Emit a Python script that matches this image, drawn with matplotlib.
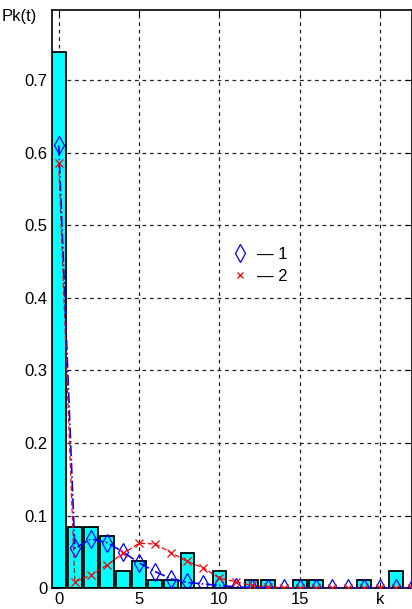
import matplotlib as mpl
mpl.use('Agg')
import matplotlib.pyplot as plt
from matplotlib.lines import Line2D

plt.rcParams['font.family'] = ['Liberation Sans', 'DejaVu Sans']
plt.rcParams['font.size'] = 12

# histogram of P_k(t)
k_bars = list(range(22))
p_bars = [0.738, 0.084, 0.084, 0.072, 0.024, 0.037, 0.012, 0.012, 0.048, 0.0,
          0.024, 0.0, 0.012, 0.012, 0.0, 0.012, 0.012, 0.0, 0.0, 0.012,
          0.0, 0.024]

# model curves at each k
k_pts = list(range(23))
p_model1 = [0.610, 0.055, 0.068, 0.063, 0.050, 0.035, 0.023, 0.013, 0.008, 0.006,
            0.004, 0.002, 0.001, 0.001, 0.0, 0.0, 0.0, 0.0, 0.0, 0.0,
            0.0, 0.0, 0.0]
p_model2 = [0.585, 0.009, 0.018, 0.032, 0.048, 0.062, 0.061, 0.049, 0.037, 0.028,
            0.014, 0.009, 0.004, 0.002, 0.001, 0.0, 0.0, 0.0, 0.0, 0.0,
            0.0, 0.0, 0.0]

xticks = [0, 5, 10, 15, 20]
xtick_labels = ['0', '5', '10', '15', 'k']
yticks = [0, 0.1, 0.2, 0.3, 0.4, 0.5, 0.6, 0.7]
ytick_labels = ['0', '0.1', '0.2', '0.3', '0.4', '0.5', '0.6', '0.7']

fig = plt.figure(figsize=(4.12, 6.09), dpi=100)
ax = fig.add_axes([51.7 / 412, 20.7 / 609, 360.3 / 412, 578.8 / 609])

ax.bar(k_bars, p_bars, width=0.85, color='#00ffff', edgecolor='black',
       linewidth=1.3, zorder=2)

ax.plot(k_pts, p_model1, color='blue', linestyle='-.', linewidth=1.2,
        marker='d', markersize=9, markerfacecolor='none',
        markeredgecolor='blue', markeredgewidth=0.9, zorder=3)
ax.plot(k_pts, p_model2, color='red', linestyle=(0, (4, 2)), linewidth=0.9,
        marker='x', markersize=6, markeredgecolor='red',
        markeredgewidth=0.9, zorder=4)

ax.set_xlim(-0.44, 21.98)
ax.set_ylim(0, 0.797)
ax.set_xticks(xticks)
ax.set_xticklabels(xtick_labels)
ax.set_yticks(yticks)
ax.set_yticklabels(ytick_labels)

ax.grid(True, color='#222222', linestyle=(0, (3, 3)), linewidth=0.9, zorder=1)
ax.set_axisbelow(True)
ax.tick_params(direction='in', length=4, top=True, right=True, pad=3)
for side in ax.spines.values():
    side.set_linewidth(1.2)

fig.text(2 / 412, 1 - 16 / 609, 'Pk(t)', fontsize=12, va='center', ha='left')

handles = [
    Line2D([], [], linestyle='none', marker='d', markersize=9,
           markerfacecolor='none', markeredgecolor='blue', markeredgewidth=0.9),
    Line2D([], [], linestyle='none', marker='x', markersize=5,
           markeredgecolor='red', markeredgewidth=0.9),
]
ax.legend(handles, ['— 1', '— 2'], loc='center left',
          bbox_to_anchor=(0.5, 0.558), frameon=False, borderpad=0,
          borderaxespad=0, handlelength=1.0, handletextpad=0.5,
          labelspacing=0.45)

fig.savefig('out.png', dpi=100)
